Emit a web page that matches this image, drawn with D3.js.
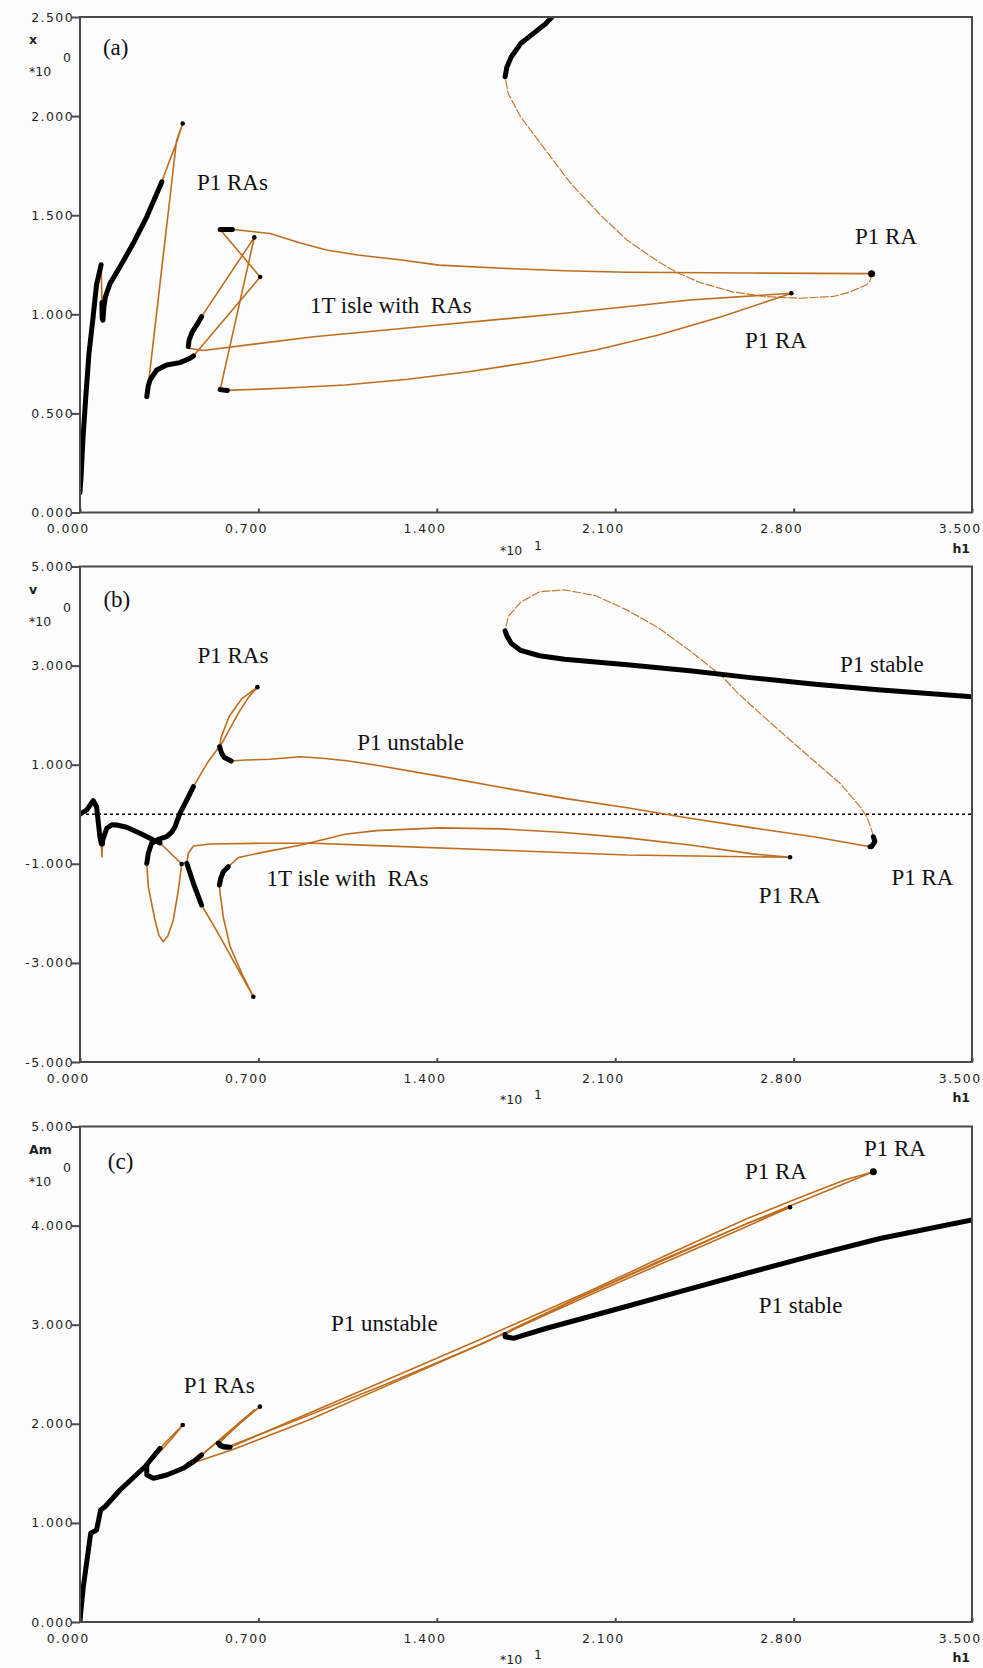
<!DOCTYPE html>
<html lang="en">
<head>
<meta charset="UTF-8" />
<title>Bifurcation diagrams (a) (b) (c)</title>
<script src="https://d3js.org/d3.v7.min.js"></script>
<style>
  body { margin: 0; background: #fcfcfc; }
  svg { display: block; }
  .tick-label { font-family: "DejaVu Sans", sans-serif; font-size: 12.5px; letter-spacing: 1.4px; fill: #1e1e1e; }
  .axis-name { font-family: "DejaVu Sans", sans-serif; font-size: 12.5px; font-weight: bold; fill: #1e1e1e; }
  .axis-exp { font-family: "DejaVu Sans", sans-serif; font-size: 12.5px; fill: #1e1e1e; }
  .note { font-family: "Liberation Serif", "Times New Roman", serif; font-size: 23px; fill: #111; white-space: pre; }
  .stable { fill: none; stroke: #000; stroke-width: 5; stroke-linejoin: round; stroke-linecap: round; }
  .unstable { fill: none; stroke: #bf6d1d; stroke-width: 1.6; stroke-linejoin: round; }
  .faint { fill: none; stroke: #c27a32; stroke-width: 1.2; stroke-dasharray: 9 1.5; }
  .ra { fill: #000; }
  .frame { fill: none; stroke: #4a4a4a; stroke-width: 2; }
</style>
</head>
<body>
<script>
/* ---------------- DATA (h1 in units of 10^1) ---------------- */

const hTicks = [0, 0.7, 1.4, 2.1, 2.8, 3.5];
const xTicksA = [0, 0.5, 1, 1.5, 2, 2.5];
const vTicksB = [-5, -3, -1, 1, 3, 5];
const amTicksC = [0, 1, 2, 3, 4, 5];

// panel (a): x vs h1
const aStable1 = [[0,0.10],[0.005,0.20],[0.012,0.38],[0.022,0.57],[0.035,0.80],[0.050,0.97],[0.065,1.15],[0.083,1.25]];
const aUnst1 = [[0.083,1.25],[0.086,1.06]];
const aStable2 = [[0.086,1.06],[0.087,0.98],[0.090,0.97],[0.094,1.04],[0.100,1.09],[0.118,1.156],[0.157,1.24],[0.209,1.358],[0.262,1.492],[0.321,1.668]];
const aUnst2 = [[0.321,1.668],[0.350,1.77],[0.380,1.87],[0.403,1.963],[0.379,1.878],[0.268,0.644]];
const aStable3 = [[0.262,0.585],[0.268,0.64],[0.275,0.669],[0.301,0.719],[0.34,0.744],[0.392,0.756],[0.432,0.778],[0.445,0.79]];
const aUnst3 = [[0.445,0.79],[0.707,1.188],[0.55,1.428]];
const aStable4 = [[0.55,1.428],[0.598,1.428]];
const aUnst4 = [[0.598,1.428],[0.622,1.425],[0.745,1.408],[0.868,1.358],[0.967,1.324],[1.09,1.299],[1.262,1.274],[1.409,1.248],[1.655,1.232],[1.901,1.22],[2.147,1.212],[2.639,1.208],[3.106,1.205]];
const aFaint1 = [[3.106,1.205],[3.100,1.17],[3.087,1.150],[3.021,1.112],[2.956,1.09],[2.825,1.081],[2.695,1.089],[2.564,1.112],[2.433,1.16],[2.344,1.21],[2.27,1.265],[2.147,1.374],[2.049,1.492],[1.926,1.66],[1.827,1.828],[1.729,1.996],[1.68,2.114],[1.668,2.198]];
const aStable5 = [[1.668,2.198],[1.675,2.248],[1.692,2.298],[1.729,2.366],[1.778,2.416],[1.827,2.466],[1.852,2.50]];
const aIsleStable1 = [[0.425,0.837],[0.428,0.87],[0.44,0.91],[0.46,0.95],[0.477,0.988]];
const aIsleUnst1 = [[0.477,0.988],[0.684,1.388],[0.55,0.62]];
const aIsleStable2 = [[0.55,0.62],[0.578,0.616]];
const aIsleUnst2 = [[0.578,0.616],[0.794,0.627],[1.04,0.643],[1.286,0.672],[1.532,0.711],[1.778,0.761],[2.024,0.82],[2.27,0.896],[2.516,0.988],[2.713,1.072],[2.791,1.106]];
const aIsleUnst3 = [[2.791,1.106],[2.393,1.072],[1.901,1.005],[1.409,0.946],[0.917,0.887],[0.499,0.82],[0.484,0.817],[0.425,0.829]];
const aDots = [[0.403,1.963],[0.684,1.388],[0.707,1.188],[2.791,1.106]];
const aBigDots = [[3.106,1.205]];
const aNotes = [["(a)",0.09,2.31],["P1 RAs",0.459,1.625],["P1 RA",3.041,1.354],["1T isle with  RAs",0.902,1.006],["P1 RA",2.609,0.83]];

// panel (b): v vs h1
const bStable1 = [[0,0],[0.026,0.086],[0.052,0.273],[0.065,0.152],[0.078,-0.453],[0.084,-0.6]];
const bUnst1 = [[0.084,-0.6],[0.086,-0.86],[0.088,-0.6]];
const bStable2 = [[0.088,-0.6],[0.089,-0.52],[0.105,-0.284],[0.125,-0.21],[0.144,-0.217],[0.183,-0.263],[0.235,-0.384],[0.288,-0.52],[0.314,-0.58]];
const bUnst2 = [[0.314,-0.58],[0.399,-1.004],[0.386,-1.529],[0.366,-2.134],[0.345,-2.45],[0.327,-2.572],[0.31,-2.45],[0.294,-2.134],[0.268,-1.462],[0.262,-0.99]];
const bStable3 = [[0.262,-0.99],[0.268,-0.788],[0.281,-0.586],[0.31,-0.5],[0.34,-0.453],[0.36,-0.36],[0.373,-0.251],[0.392,0.019],[0.419,0.288],[0.445,0.556]];
const bUnst3 = [[0.445,0.556],[0.5,1.04],[0.561,1.47],[0.622,2.046],[0.66,2.35],[0.696,2.565],[0.635,2.334],[0.585,1.974],[0.553,1.542],[0.548,1.362]];
const bStable4 = [[0.548,1.362],[0.555,1.24],[0.565,1.15],[0.593,1.074]];
const bUnst4 = [[0.593,1.074],[0.65,1.095],[0.746,1.109],[0.863,1.16],[0.95,1.13],[1.047,1.08],[1.163,0.99],[1.409,0.77],[1.655,0.54],[1.901,0.32],[2.147,0.13],[2.393,-0.08],[2.639,-0.275],[2.885,-0.46],[3.1,-0.655]];
const bStable5 = [[3.1,-0.655],[3.106,-0.655],[3.119,-0.55],[3.113,-0.453]];
const bFaint1 = [[3.113,-0.453],[3.105,-0.3],[3.087,-0.05],[3.061,0.152],[2.982,0.625],[2.891,1.028],[2.786,1.5],[2.68,1.98],[2.58,2.45],[2.516,2.8],[2.393,3.3],[2.27,3.76],[2.147,4.12],[2.024,4.41],[1.901,4.53],[1.803,4.49],[1.729,4.28],[1.68,3.99],[1.668,3.70]];
const bStable6 = [[1.668,3.70],[1.675,3.6],[1.692,3.451],[1.729,3.307],[1.803,3.199],[1.901,3.127],[2.147,3.019],[2.393,2.896],[2.639,2.752],[2.885,2.622],[3.131,2.514],[3.5,2.37]];
const bIsleStable1 = [[0.419,-0.99],[0.445,-1.394],[0.477,-1.832]];
const bIsleUnst1 = [[0.477,-1.832],[0.536,-2.35],[0.615,-3.08],[0.68,-3.682],[0.641,-3.279],[0.589,-2.673],[0.562,-2.068],[0.55,-1.6],[0.547,-1.428]];
const bIsleStable2 = [[0.547,-1.428],[0.552,-1.3],[0.562,-1.159],[0.582,-1.059]];
const bIsleUnst2 = [[0.582,-1.059],[0.622,-0.872],[0.721,-0.764],[0.868,-0.62],[1.04,-0.403],[1.163,-0.331],[1.409,-0.274],[1.655,-0.295],[1.901,-0.367],[2.147,-0.476],[2.393,-0.62],[2.639,-0.8],[2.786,-0.869]];
const bIsleUnst3 = [[2.786,-0.869],[2.147,-0.821],[1.655,-0.728],[1.163,-0.634],[0.917,-0.584],[0.706,-0.586],[0.51,-0.6],[0.445,-0.641],[0.425,-0.788],[0.419,-0.99]];
const bDots = [[0.399,-1.004],[0.696,2.565],[0.68,-3.682],[2.786,-0.869]];
const bBigDots = [];
const bNotes = [["(b)",0.092,4.183],["P1 RAs",0.461,3.052],["P1 stable",2.982,2.871],["P1 unstable",1.088,1.297],["1T isle with  RAs",0.732,-1.448],["P1 RA",3.184,-1.428],["P1 RA",2.663,-1.791]];

// panel (c): Am vs h1
const cStable1 = [[0,0],[0.003,0.1],[0.013,0.356],[0.033,0.727],[0.042,0.895],[0.065,0.928],[0.081,1.13],[0.098,1.163],[0.157,1.332],[0.255,1.567],[0.314,1.753]];
const cUnst2 = [[0.314,1.753],[0.36,1.875],[0.403,1.988],[0.36,1.85],[0.3,1.68],[0.262,1.58]];
const cStable3 = [[0.262,1.58],[0.262,1.483],[0.288,1.45],[0.34,1.483],[0.405,1.551],[0.445,1.618]];
const cUnst3 = [[0.445,1.618],[0.55,1.84],[0.62,1.99],[0.706,2.173],[0.63,2.02],[0.543,1.803]];
const cStable4 = [[0.543,1.803],[0.55,1.78],[0.565,1.765],[0.589,1.763]];
const cUnst4 = [[0.589,1.763],[0.9,2.11],[1.2,2.44],[1.57,2.85],[1.7,3.0],[2.0,3.34],[2.3,3.70],[2.616,4.07],[2.812,4.27],[3.0,4.46],[3.113,4.544]];
const cUnst5 = [[3.113,4.544],[2.9,4.32],[2.616,4.02],[2.289,3.65],[1.962,3.28],[1.7,2.95],[1.668,2.90]];
const cStable5 = [[1.668,2.90],[1.668,2.879],[1.7,2.863],[1.831,2.964],[2.093,3.148],[2.354,3.333],[2.616,3.519],[2.878,3.70],[3.139,3.87],[3.5,4.057]];
const cIsleStable1 = [[0.425,1.59],[0.445,1.618],[0.477,1.685]];
const cIsleUnst1 = [[0.477,1.685],[0.684,2.14],[0.543,1.803]];
const cIsleStable2 = [[0.543,1.803],[0.56,1.77],[0.578,1.765]];
const cIsleUnst2 = [[0.578,1.765],[0.9,2.09],[1.2,2.40],[1.57,2.80],[1.962,3.28],[2.289,3.66],[2.616,4.02],[2.786,4.185]];
const cIsleUnst3 = [[2.786,4.185],[2.5,3.86],[2.0,3.30],[1.57,2.80],[1.2,2.38],[0.9,2.04],[0.6,1.74],[0.425,1.59]];
const cDots = [[0.403,1.988],[0.706,2.173],[2.786,4.185]];
const cBigDots = [[3.113,4.544]];
const cNotes = [["(c)",0.109,4.571],["P1 RA",3.076,4.702],["P1 RA",2.609,4.47],["P1 stable",2.663,3.118],["P1 unstable",0.985,2.937],["P1 RAs",0.407,2.311]];

/* ---------------- PANELS ---------------- */

const panels = [
  { top: 17, yDomain: [0, 2.5], yTicks: xTicksA, yName: "x", zeroLine: false,
    stable: [aStable1, aStable2, aStable3, aStable4, aStable5, aIsleStable1, aIsleStable2],
    unstable: [aUnst1, aUnst2, aUnst3, aUnst4, aIsleUnst1, aIsleUnst2, aIsleUnst3],
    faint: [aFaint1], dots: aDots, bigDots: aBigDots, notes: aNotes },
  { top: 566.5, yDomain: [-5, 5], yTicks: vTicksB, yName: "v", zeroLine: true,
    stable: [bStable1, bStable2, bStable3, bStable4, bStable5, bStable6, bIsleStable1, bIsleStable2],
    unstable: [bUnst1, bUnst2, bUnst3, bUnst4, bIsleUnst1, bIsleUnst2, bIsleUnst3],
    faint: [bFaint1], dots: bDots, bigDots: bBigDots, notes: bNotes },
  { top: 1126.5, yDomain: [0, 5], yTicks: amTicksC, yName: "Am", zeroLine: false,
    stable: [cStable1, cStable3, cStable4, cStable5, cIsleStable1, cIsleStable2],
    unstable: [cUnst2, cUnst3, cUnst4, cUnst5, cIsleUnst1, cIsleUnst2, cIsleUnst3],
    faint: [], dots: cDots, bigDots: cBigDots, notes: cNotes }
];

/* ---------------- SVG SETUP ---------------- */

const W = 983, H = 1668;
const left = 80, right = 972, plotH = 495.5;
const fmt = d => d.toFixed(3);

const svg = d3.select("body").append("svg").attr("width", W).attr("height", H);
const x = d3.scaleLinear().domain([0, 3.5]).range([left, right]);

panels.forEach((p, i) => {
  const g = svg.append("g").attr("transform", `translate(0,${p.top})`);
  const y = d3.scaleLinear().domain(p.yDomain).range([plotH, 0]);
  const line = d3.line().x(d => x(d[0])).y(d => y(d[1]));

  g.append("clipPath").attr("id", "clip" + i)
    .append("rect").attr("x", left).attr("y", 0).attr("width", right - left).attr("height", plotH);

  const plot = g.append("g").attr("clip-path", `url(#clip${i})`);

  if (p.zeroLine) {
    plot.append("line")
      .attr("x1", x(0)).attr("x2", x(3.5)).attr("y1", y(0)).attr("y2", y(0))
      .attr("stroke", "#000").attr("stroke-width", 1.6).attr("stroke-dasharray", "3 3");
  }

  plot.selectAll(".faint").data(p.faint).enter().append("path").attr("class", "faint").attr("d", line);
  plot.selectAll(".unstable").data(p.unstable).enter().append("path").attr("class", "unstable").attr("d", line);
  plot.selectAll(".stable").data(p.stable).enter().append("path").attr("class", "stable").attr("d", line);

  plot.selectAll(".ra").data(p.dots).enter().append("circle").attr("class", "ra")
    .attr("cx", d => x(d[0])).attr("cy", d => y(d[1])).attr("r", 2.3);
  plot.selectAll(".ra-big").data(p.bigDots).enter().append("circle").attr("class", "ra")
    .attr("cx", d => x(d[0])).attr("cy", d => y(d[1])).attr("r", 3.5);

  /* frame and axes */
  g.append("rect").attr("class", "frame").attr("x", left).attr("y", 0)
    .attr("width", right - left).attr("height", plotH);

  const yAxis = g.append("g").attr("transform", `translate(${left},0)`)
    .call(d3.axisLeft(y).tickValues(p.yTicks).tickFormat(fmt).tickSize(8).tickPadding(-2));
  const xAxis = g.append("g").attr("transform", `translate(0,${plotH})`)
    .call(d3.axisBottom(x).tickValues(hTicks).tickFormat(fmt).tickSize(-4).tickPadding(12));

  [yAxis, xAxis].forEach(ax => {
    ax.select(".domain").remove();
    ax.selectAll(".tick line").attr("stroke", "#4a4a4a").attr("stroke-width", 2);
    ax.selectAll(".tick text").attr("class", "tick-label").attr("fill", null)
      .attr("font-family", null).attr("font-size", null);
  });
  xAxis.selectAll(".tick text").attr("text-anchor", "end").attr("dx", 9);

  /* axis names */
  g.append("text").attr("class", "axis-name").attr("x", 29).attr("y", 27).text(p.yName);
  g.append("text").attr("class", "axis-exp").attr("x", 29).attr("y", 59).text("*10");
  g.append("text").attr("class", "axis-exp").attr("x", 63).attr("y", 45).text("0");

  g.append("text").attr("class", "axis-name").attr("x", 970).attr("y", plotH + 40)
    .attr("text-anchor", "end").text("h1");
  g.append("text").attr("class", "axis-exp").attr("x", 500).attr("y", plotH + 42).text("*10");
  g.append("text").attr("class", "axis-exp").attr("x", 534).attr("y", plotH + 37).text("1");

  /* annotations */
  g.selectAll(".note").data(p.notes).enter().append("text").attr("class", "note")
    .attr("x", d => x(d[1])).attr("y", d => y(d[2])).text(d => d[0]);
});
</script>
</body>
</html>
